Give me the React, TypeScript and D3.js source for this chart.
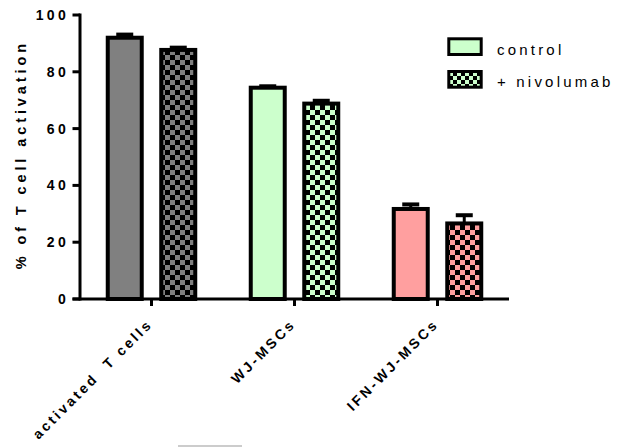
import React from "react";
import * as d3 from "d3";

const categories = ["activated  T cells", "WJ-MSCs", "IFN-WJ-MSCs"];
const seriesNames = ["control", "+ nivolumab"];
const controlValues = [92.0, 74.4, 31.7];
const controlErrors = [1.1, 0.5, 1.6];
const nivoValues = [87.7, 68.8, 26.6];
const nivoErrors = [0.8, 1.0, 2.9];
const yTicks = [0, 20, 40, 60, 80, 100];
const groupColors = ["#808080", "#ccffcc", "#ff9f9f"];

const W = 620;
const H = 447;
const FONT = "'Liberation Sans', Arial, Helvetica, sans-serif";

export default function App() {
  const y = d3.scaleLinear().domain([0, 100]).range([299, 15]);
  const x = d3.scaleBand<string>().domain(categories).range([80, 509]).padding(0);
  const xSub = d3
    .scaleBand<string>()
    .domain(seriesNames)
    .range([-45.75, 45.75])
    .paddingInner(0.29)
    .paddingOuter(0);
  const sw = 4;
  const bw = xSub.bandwidth();

  const series = [
    { name: seriesNames[0], values: controlValues, errors: controlErrors, checker: false },
    { name: seriesNames[1], values: nivoValues, errors: nivoErrors, checker: true },
  ];

  return (
    <svg width={W} height={H} style={{ position: "absolute", left: 0, top: 0, background: "#fff" }}>
      <defs>
        {groupColors.map((c, i) => (
          <pattern key={i} id={`chk${i}`} patternUnits="userSpaceOnUse" width={10} height={10}>
            <rect width={10} height={10} fill="#000" />
            <rect x={0} y={0} width={5} height={5} fill={c} />
            <rect x={5} y={5} width={5} height={5} fill={c} />
          </pattern>
        ))}
        <pattern id="chkLeg" patternUnits="userSpaceOnUse" width={8} height={8} x={449} y={72}>
          <rect width={8} height={8} fill="#000" />
          <rect x={0} y={0} width={4} height={4} fill="#ccffcc" />
          <rect x={4} y={4} width={4} height={4} fill="#ccffcc" />
        </pattern>
      </defs>

      {/* bars */}
      {categories.map((cat, ci) => {
        const cx = (x(cat) as number) + x.bandwidth() / 2;
        return series.map((s) => {
          const bx = cx + (xSub(s.name) as number);
          const v = s.values[ci];
          const e = s.errors[ci];
          const top = y(v);
          const errTop = y(v + e);
          const mid = bx + bw / 2;
          return (
            <g key={cat + s.name}>
              <line x1={mid} x2={mid} y1={top} y2={errTop} stroke="#000" strokeWidth={3} />
              <line x1={mid - 8.5} x2={mid + 8.5} y1={errTop} y2={errTop} stroke="#000" strokeWidth={4} />
              <rect
                x={bx + sw / 2}
                y={top}
                width={bw - sw}
                height={y(0) - top}
                fill={s.checker ? `url(#chk${ci})` : groupColors[ci]}
                stroke="#000"
                strokeWidth={sw}
              />
            </g>
          );
        });
      })}

      {/* y axis */}
      <line x1={80} x2={80} y1={y(100) - 1.5} y2={y(0) + 1.5} stroke="#000" strokeWidth={3} />
      {yTicks.map((t) => (
        <g key={t}>
          <line x1={72.5} x2={80} y1={y(t)} y2={y(t)} stroke="#000" strokeWidth={3} />
          <text
            x={69}
            y={y(t)}
            dy="0.36em"
            textAnchor="end"
            fontFamily={FONT}
            fontWeight="bold"
            fontSize={14}
            letterSpacing={3.3}
            fill="#000"
          >
            {t}
          </text>
        </g>
      ))}
      <text
        transform={`translate(25.5, 154.7) rotate(-90)`}
        textAnchor="middle"
        fontFamily={FONT}
        fontWeight="bold"
        fontSize={14.5}
        letterSpacing={3.9}
        fill="#000"
      >
        % of T cell activation
      </text>

      {/* x axis */}
      <line x1={72.5} x2={509} y1={y(0)} y2={y(0)} stroke="#000" strokeWidth={3} />
      {categories.map((cat) => {
        const cx = (x(cat) as number) + x.bandwidth() / 2;
        return (
          <g key={cat}>
            <line x1={cx} x2={cx} y1={y(0)} y2={306} stroke="#000" strokeWidth={3} />
            <text
              transform={`translate(${cx + 2}, 325) rotate(-45)`}
              textAnchor="end"
              fontFamily={FONT}
              fontWeight="bold"
              fontSize={14}
              letterSpacing={2.8}
              fill="#000"
              style={{ whiteSpace: "pre" }}
            >
              {cat}
            </text>
          </g>
        );
      })}

      {/* legend */}
      {series.map((s, i) => (
        <g key={s.name}>
          <rect
            x={448.8}
            y={38.8 + i * 32.7}
            width={32.4}
            height={15.7}
            fill={s.checker ? "url(#chkLeg)" : "#ccffcc"}
            stroke="#000"
            strokeWidth={3}
          />
          <text
            x={497}
            y={55 + i * 32.3}
            fontFamily={FONT}
            fontSize={15}
            letterSpacing={3.2}
            fill="#000"
          >
            {s.name}
          </text>
        </g>
      ))}

      {/* faint artifact line at bottom */}
      <line x1={178} x2={242} y1={446} y2={446} stroke="#bbb" strokeWidth={1.5} />
    </svg>
  );
}
